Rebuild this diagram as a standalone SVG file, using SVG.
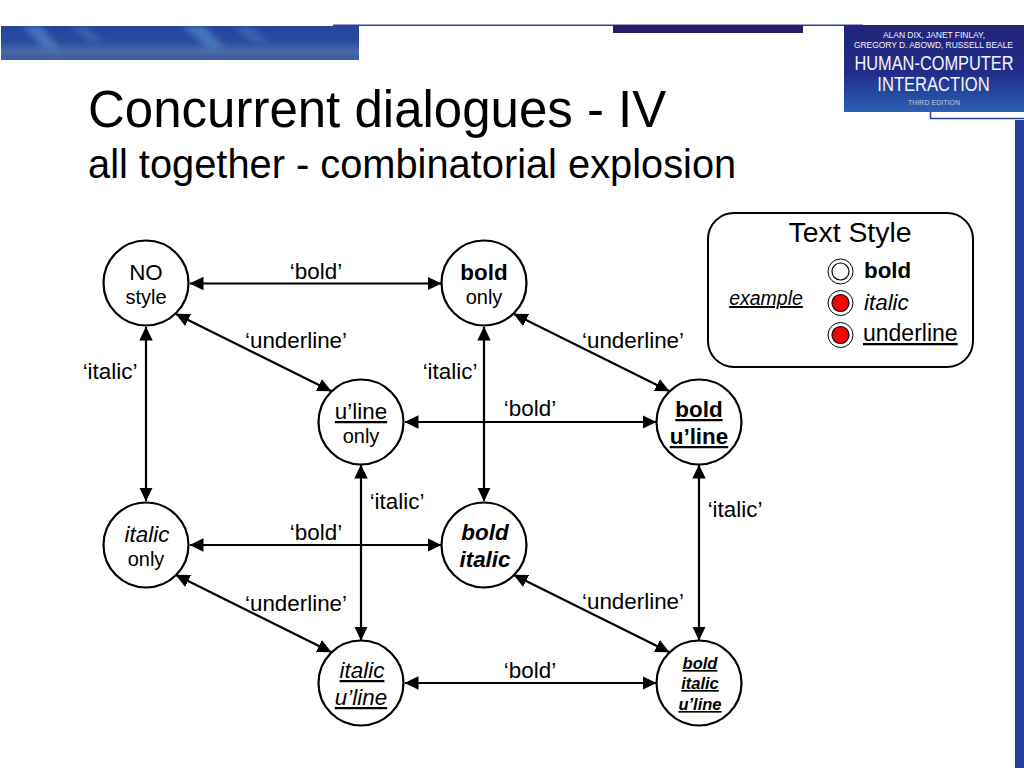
<svg xmlns="http://www.w3.org/2000/svg" width="1024" height="768" viewBox="0 0 1024 768">
<style>
text{font-family:"Liberation Sans",Arial,sans-serif;fill:#000}
.n{fill:#fff;stroke:#000;stroke-width:2.2}
.c{stroke:#000;stroke-width:2.2;fill:none;marker-start:url(#ah);marker-end:url(#ah)}
.l{font-size:22.4px;text-anchor:middle}
.m{text-anchor:middle}
.a{font-size:22.4px}
.s{font-size:20px}
.b{font-weight:bold}
.i{font-style:italic}
.u{text-decoration:underline}
.cv{fill:#f2f4fa;text-anchor:middle}
.cg{fill:#c3cbe0;text-anchor:middle}
.o{fill:#fff;stroke:#000;stroke-width:1}
.r{fill:#f00;stroke:#000;stroke-width:1.200}
.w{fill:#fff;stroke:#000;stroke-width:1.200}
</style>
<defs>
<marker id="ah" viewBox="0 0 14 14" refX="13.5" refY="7" markerWidth="14" markerHeight="14" markerUnits="userSpaceOnUse" orient="auto-start-reverse"><path d="M0 0.3L14 7L0 13.7Z" fill="#000"/></marker>
<linearGradient id="band" x1="0" y1="0" x2="0" y2="1"><stop offset="0" stop-color="#25439c"/><stop offset=".45" stop-color="#2a4a9f"/><stop offset=".75" stop-color="#4a69a8"/><stop offset="1" stop-color="#3a5aa6"/></linearGradient>
<linearGradient id="cover" x1="0" y1="0" x2="0" y2="1"><stop offset="0" stop-color="#21257a"/><stop offset=".55" stop-color="#222c8a"/><stop offset="1" stop-color="#2a62b4"/></linearGradient>
<filter id="bl" x="-30%" y="-30%" width="160%" height="160%"><feGaussianBlur stdDeviation="3"/></filter>
<clipPath id="bc"><rect x="1" y="26" width="358" height="34"/></clipPath>
</defs>
<rect width="1024" height="768" fill="#fff"/>
<g id="decor">
<rect x="1" y="26" width="358" height="34" fill="url(#band)"/>
<g clip-path="url(#bc)" fill="#5e9ad0" opacity=".55" filter="url(#bl)">
<path d="M22 26H40L60 48H44Z"/><path d="M182 26H205L225 48H208Z"/><path d="M70 26H85L105 42H90Z" opacity=".6"/><path d="M232 26H250L270 42H252Z" opacity=".6"/>
</g>
<rect x="333" y="24.500" width="530" height="1.500" fill="#3a3a96"/>
<rect x="613" y="25" width="190" height="8" fill="#281c66"/>
<rect x="844" y="25" width="180" height="87" fill="url(#cover)"/>
<text class="cv" x="934" y="38" font-size="8.500" textLength="102" lengthAdjust="spacing">ALAN DIX, JANET FINLAY,</text>
<text class="cv" x="933.500" y="48" font-size="8.500" textLength="159" lengthAdjust="spacing">GREGORY D. ABOWD, RUSSELL BEALE</text>
<text class="cv" transform="translate(934 70) scale(.82 1)" font-size="20">HUMAN-COMPUTER</text>
<text class="cv" transform="translate(933.500 91) scale(.83 1)" font-size="20">INTERACTION</text>
<text class="cg" x="934" y="105" font-size="7" textLength="52" lengthAdjust="spacing">THIRD EDITION</text>
<path d="M930.500 112V118.500H1024" fill="none" stroke="#2c3f96" stroke-width="1.500"/>
<rect x="1015" y="120" width="9" height="648" fill="#24409a"/>
</g>
<g id="title">
<text x="88" y="127" font-size="51px">Concurrent dialogues - IV</text>
<text x="88" y="178" font-size="39.800px">all together - combinatorial explosion</text>
</g>
<g id="connectors">
<line class="c" x1="190" y1="283.500" x2="441" y2="283.500"/>
<line class="c" x1="190" y1="545" x2="441" y2="545"/>
<line class="c" x1="405" y1="422" x2="656" y2="422"/>
<line class="c" x1="405" y1="683" x2="656" y2="683"/>
<line class="c" x1="146" y1="327" x2="146" y2="501"/>
<line class="c" x1="484" y1="327" x2="484" y2="501"/>
<line class="c" x1="361" y1="465" x2="361" y2="640"/>
<line class="c" x1="699" y1="465" x2="699" y2="640"/>
<line class="c" x1="176" y1="314" x2="331" y2="391"/>
<line class="c" x1="514" y1="314" x2="669" y2="391"/>
<line class="c" x1="176" y1="575" x2="331" y2="652"/>
<line class="c" x1="514" y1="575" x2="669" y2="652"/>
</g>
<g id="labels">
<text class="l" x="316" y="279">‘bold’</text>
<text class="l" x="316" y="540">‘bold’</text>
<text class="l" x="530" y="416">‘bold’</text>
<text class="l" x="530" y="678">‘bold’</text>
<text class="l" x="296" y="348">‘underline’</text>
<text class="l" x="633" y="348">‘underline’</text>
<text class="l" x="296" y="611">‘underline’</text>
<text class="l" x="633" y="609">‘underline’</text>
<text class="l" x="110" y="379">‘italic’</text>
<text class="l" x="450" y="379">‘italic’</text>
<text class="l" x="397" y="509">‘italic’</text>
<text class="l" x="735" y="517">‘italic’</text>
</g>
<g id="no-style"><circle class="n" cx="146" cy="283" r="42.500"/><text class="m a" x="146" y="280">NO</text><text class="m s" x="146" y="304">style</text></g>
<g id="bold-only"><circle class="n" cx="484" cy="283" r="42.500"/><text class="m a b" x="484" y="280">bold</text><text class="m s" x="484" y="304">only</text></g>
<g id="uline-only"><circle class="n" cx="361" cy="422" r="42.500"/><text class="m a u" x="361" y="419">u’line</text><text class="m s" x="361" y="443">only</text></g>
<g id="bold-uline"><circle class="n" cx="699" cy="422" r="42.500"/><text class="m a b u" x="699" y="417">bold</text><text class="m a b u" x="699" y="444">u’line</text></g>
<g id="italic-only"><circle class="n" cx="146" cy="545" r="42.500"/><text class="m a i" x="147" y="542">italic</text><text class="m s" x="146" y="566">only</text></g>
<g id="bold-italic"><circle class="n" cx="484" cy="545" r="42.500"/><text class="m a b i" x="485" y="540">bold</text><text class="m a b i" x="485" y="567">italic</text></g>
<g id="italic-uline"><circle class="n" cx="361" cy="683" r="42.500"/><text class="m a i u" x="362" y="678">italic</text><text class="m a i u" x="361" y="705">u’line</text></g>
<g id="bold-italic-uline"><circle class="n" cx="699" cy="683" r="42.500"/><text class="m b i u" font-size="16.500px" x="700" y="669">bold</text><text class="m b i u" font-size="16.500px" x="700" y="689">italic</text><text class="m b i u" font-size="16.500px" x="700" y="710">u’line</text></g>
<g id="legend">
<rect x="708" y="213" width="265" height="154" rx="26" ry="26" fill="#fff" stroke="#000" stroke-width="2"/>
<text class="m" x="850" y="242" font-size="28.400px">Text Style</text>
<text class="m s i u" x="766" y="305" style="font-size:19.500px">example</text>
<circle class="o" cx="840.500" cy="271.500" r="12.500"/><circle class="w" cx="840.500" cy="271.500" r="8.500"/>
<circle class="o" cx="840.500" cy="303" r="12.500"/><circle class="r" cx="840.500" cy="303" r="8.500"/>
<circle class="o" cx="840.500" cy="335" r="12.500"/><circle class="r" cx="840.500" cy="335" r="8.500"/>
<text class="a b" x="864" y="278">bold</text>
<text class="a i" x="864" y="310">italic</text>
<text class="u" x="863" y="341" font-size="23px">underline</text>
</g>
</svg>
